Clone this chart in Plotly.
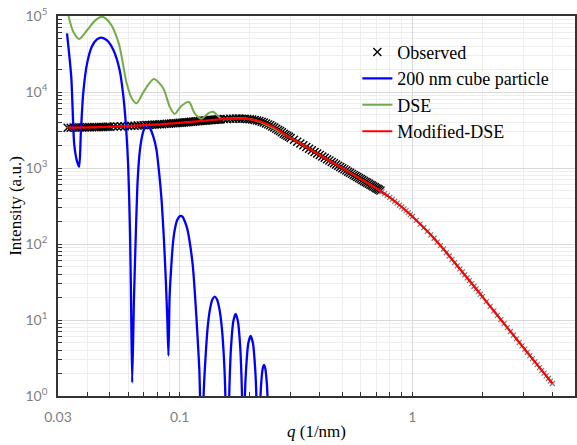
import plotly.graph_objects as go

# ---- Observed scattering intensity (dense SAXS range) ----
obs_q = [0.033, 0.034, 0.035, 0.036, 0.037, 0.038, 0.039, 0.040, 0.041, 0.042,
         0.043, 0.044, 0.045, 0.046, 0.047, 0.048, 0.049, 0.050, 0.052, 0.054,
         0.056, 0.058, 0.060, 0.062, 0.064, 0.066, 0.068, 0.070, 0.072, 0.074,
         0.076, 0.078, 0.080, 0.082, 0.084, 0.086, 0.088, 0.090, 0.092, 0.094,
         0.096, 0.098, 0.100, 0.102, 0.104, 0.106, 0.108, 0.110, 0.112, 0.114,
         0.116, 0.118, 0.120, 0.122, 0.124, 0.126, 0.128, 0.130, 0.132, 0.134,
         0.136, 0.138, 0.140, 0.142, 0.144, 0.146, 0.148,
         0.150, 0.155, 0.160, 0.165, 0.170, 0.175, 0.180, 0.185, 0.190, 0.195,
         0.200, 0.205, 0.210, 0.215, 0.220, 0.225, 0.230, 0.235, 0.240, 0.245,
         0.250, 0.255, 0.260, 0.265, 0.270, 0.275, 0.280, 0.285, 0.290, 0.295,
         0.300, 0.31, 0.32, 0.33, 0.34, 0.35, 0.36, 0.37, 0.38, 0.39,
         0.40, 0.41, 0.42, 0.43, 0.44, 0.45, 0.46, 0.47, 0.48, 0.49,
         0.50, 0.51, 0.52, 0.53, 0.54, 0.55, 0.56, 0.57, 0.58, 0.59,
         0.60, 0.61, 0.62, 0.63, 0.64, 0.65, 0.66, 0.67, 0.68, 0.69,
         0.70, 0.71, 0.72, 0.73]
obs_i = [3390, 3395, 3400, 3405, 3410, 3415, 3420, 3426, 3432, 3438,
         3445, 3450, 3455, 3462, 3468, 3475, 3482, 3490, 3505, 3520,
         3540, 3555, 3570, 3587, 3603, 3620, 3637, 3654, 3670, 3690,
         3708, 3725, 3742, 3759, 3776, 3794, 3811, 3830, 3850, 3870,
         3890, 3910, 3930, 3950, 3970, 3990, 4010, 4030, 4050, 4070,
         4090, 4110, 4130, 4150, 4170, 4188, 4203, 4220, 4236, 4253,
         4270, 4287, 4303, 4320, 4333, 4347, 4360,
         4380, 4400, 4420, 4440, 4460, 4470, 4470, 4460, 4445, 4420,
         4385, 4340, 4285, 4220, 4145, 4060, 3965, 3860, 3750, 3640,
         3520, 3400, 3290, 3170, 3060, 2950, 2830, 2740, 2650, 2570,
         2490, 2351, 2220, 2100, 1990, 1889, 1796, 1710, 1629, 1555,
         1486, 1421, 1361, 1304, 1252, 1202, 1155, 1111, 1070, 1031,
         994, 959, 926, 895, 866, 837, 811, 785, 761, 738,
         716, 695, 675, 656, 638, 620, 603, 587, 572, 557,
         542, 529, 516, 504]

# ---- Observed scattering intensity (high-q range) ----
obs_q_high = [0.74, 0.76, 0.78, 0.80, 0.82, 0.84, 0.86, 0.88, 0.90, 0.92,
              0.94, 0.96, 0.98, 1.00, 1.04, 1.08, 1.12, 1.16, 1.20, 1.24,
              1.28, 1.32, 1.36, 1.40, 1.44, 1.48, 1.52, 1.56, 1.60, 1.64,
              1.68, 1.72, 1.76, 1.80, 1.84, 1.88, 1.92, 1.96, 2.00, 2.08,
              2.16, 2.24, 2.32, 2.40, 2.48, 2.56, 2.64, 2.72, 2.80, 2.88,
              2.96, 3.04, 3.12, 3.20, 3.28, 3.36, 3.44, 3.52, 3.60, 3.68,
              3.76, 3.84, 3.92, 4.00]
obs_i_high = [489, 461, 435, 410, 387, 365, 344, 325, 307, 290,
              274, 258, 244, 230, 205, 183, 164, 147, 132, 119,
              106, 95.5, 85.8, 77.1, 69.5, 62.8, 56.9, 51.6, 47.0, 42.9,
              39.2, 35.9, 32.9, 30.2, 27.8, 25.6, 23.7, 21.9, 20.3, 17.5,
              15.1, 13.2, 11.5, 10.1, 8.95, 7.94, 7.06, 6.31, 5.65, 5.07,
              4.57, 4.13, 3.74, 3.40, 3.10, 2.82, 2.58, 2.37, 2.17, 2.00,
              1.84, 1.70, 1.57, 1.46]

# ---- Form factor of a 200 nm cube particle ----
cube_q = [0.0328, 0.0342, 0.0352, 0.0361, 0.0370, 0.0376, 0.0385, 0.0400, 0.0419, 0.0441,
          0.0460, 0.0486, 0.0519, 0.0552, 0.0573, 0.0588, 0.0601, 0.0612, 0.0618, 0.0625,
          0.0636, 0.0648, 0.0660, 0.0675, 0.0694, 0.0716, 0.0745, 0.0770, 0.0795, 0.0815,
          0.0836, 0.0855, 0.0873, 0.0885, 0.0895,
          0.0905, 0.0920, 0.0935, 0.0952, 0.0975, 0.1007, 0.1030, 0.1054, 0.1078, 0.1101,
          0.1140, 0.1180, 0.1200, 0.1215, 0.1223, 0.1245,
          0.1267, 0.1290, 0.1320, 0.1351, 0.1382, 0.1415, 0.1447, 0.1481, 0.1516, 0.1551,
          0.1572, 0.1605,
          0.1633, 0.1642, 0.1661, 0.1700, 0.1740, 0.1780, 0.1822, 0.1843, 0.1853, 0.1873,
          0.1907, 0.1928, 0.1972, 0.2018, 0.2065, 0.2113, 0.2136, 0.2175,
          0.2225, 0.2251, 0.2277, 0.2304, 0.2331, 0.2358, 0.2385, 0.2448]
cube_i = [5.9e4, 1.59e4, 2100, 1270, 1040, 2860, 9600, 2.38e4, 3.95e4, 4.93e4,
          5.2e4, 4.8e4, 3.57e4, 1.95e4, 8700, 3490, 1040, 138, 18.3, 1.5,
          18.3, 138, 700, 1730, 2860, 3700, 3330, 2600, 1730, 900,
          380, 120, 30.5, 10, 3.4,
          20, 50, 100, 153, 205, 234, 228, 196, 158, 113,
          50, 11, 4.5, 2.2, 1.0, 0.01,
          1.0, 3.0, 8.2, 14.05, 18.6, 20.3, 18.6, 14.05, 8.2, 3.0,
          1.0, 0.01,
          1.0, 1.84, 4.23, 9.56, 12.0, 9.56, 4.23, 1.84, 1.0, 0.01,
          1.0, 2.17, 4.93, 6.2, 4.93, 2.17, 1.0, 0.01,
          1.0, 1.76, 2.34, 2.56, 2.34, 1.76, 1.0, 0.01]

# ---- Debye scattering equation ----
dse_q = [0.0333, 0.0349, 0.0370, 0.0400, 0.0436, 0.0464, 0.0503, 0.0547, 0.0592, 0.0622,
         0.0653, 0.0699, 0.0774, 0.0850, 0.0906, 0.0952, 0.1016, 0.1096, 0.1160, 0.1240,
         0.1326, 0.1390, 0.1510, 0.1650, 0.1800, 0.2000, 0.2200, 0.2400, 0.2600, 0.2800,
         0.3000, 0.3500, 0.4000, 0.5000, 0.6000, 0.7000, 0.7300]
dse_i = [1.0e5, 6.2e4, 5.0e4, 6.5e4, 8.9e4, 9.8e4, 8.0e4, 4.4e4, 1.3e4, 8260,
         7100, 1.0e4, 1.48e4, 1.12e4, 6400, 5150, 6550, 7400, 5250, 4450,
         5250, 5480, 4450, 4480, 4500, 4400, 4050, 3600, 3180, 2790,
         2490, 1900, 1480, 1000, 715, 540, 500]

# ---- Modified Debye scattering equation ----
mdse_q = [0.0328, 0.040, 0.050, 0.060, 0.070, 0.080, 0.090, 0.100, 0.115, 0.130,
          0.145, 0.160, 0.175, 0.190, 0.205, 0.220, 0.240, 0.260, 0.280, 0.300,
          0.350, 0.400, 0.500, 0.600, 0.700, 0.800, 0.900, 1.0, 1.2, 1.4,
          1.6, 1.8, 2.0, 2.3, 2.6, 3.0, 3.5, 4.0]
mdse_i = [3390, 3425, 3490, 3570, 3655, 3740, 3830, 3930, 4080, 4220,
          4340, 4425, 4465, 4445, 4340, 4140, 3730, 3300, 2820, 2490,
          1889, 1486, 994, 716, 542, 410, 307, 230, 132, 77.1,
          47.0, 30.2, 20.3, 11.9, 7.48, 4.35, 2.42, 1.46]

# ---- Axis ticks ----
x_tickvals = [0.03, 0.1, 1, 5]
x_ticktext = ["0.03", "0.1", "1", "5"]
x_minor = [0.04, 0.05, 0.06, 0.07, 0.08, 0.09,
           0.2, 0.3, 0.4, 0.5, 0.6, 0.7, 0.8, 0.9, 2, 3, 4]
y_tickvals = [1, 10, 100, 1000, 10000, 100000]
y_ticktext = ["10<sup>0</sup>", "10<sup>1</sup>", "10<sup>2</sup>",
              "10<sup>3</sup>", "10<sup>4</sup>", "10<sup>5</sup>"]
y_minor = [m * d for d in (1, 10, 100, 1000, 10000) for m in range(2, 10)]

SERIF = "Liberation Serif"
TICKFONT = dict(family="Lato", size=14, color="#7f7f7f")
AXIS_COLOR = "#333333"

fig = go.Figure()

fig.add_trace(go.Scatter(
    x=obs_q, y=obs_i, mode="markers", name="Observed",
    marker=dict(symbol="x-thin", size=8, color="black",
                line=dict(width=1.4, color="black")),
    legendgroup="obs"))
fig.add_trace(go.Scatter(
    x=obs_q_high, y=obs_i_high, mode="markers", name="Observed",
    showlegend=False, legendgroup="obs",
    marker=dict(symbol="x-thin", size=5, color="#777777",
                line=dict(width=1.1, color="#777777"))))
fig.add_trace(go.Scatter(
    x=cube_q, y=cube_i, mode="lines", name="200 nm cube particle",
    line=dict(color="#0000ff", width=2.3, shape="spline", smoothing=0.6),
    legendgroup="cube"))
fig.add_trace(go.Scatter(
    x=dse_q, y=dse_i, mode="lines", name="DSE",
    line=dict(color="#70ad47", width=2, shape="spline", smoothing=0.8),
    legendgroup="dse"))
fig.add_trace(go.Scatter(
    x=mdse_q, y=mdse_i, mode="lines", name="Modified-DSE",
    line=dict(color="#ff0000", width=2.2, shape="spline", smoothing=0.8),
    legendgroup="mdse"))

fig.update_xaxes(
    type="log", range=[-1.5229, 0.699],
    tickmode="array", tickvals=x_tickvals, ticktext=x_ticktext,
    ticks="inside", ticklen=4, tickwidth=1, tickcolor=AXIS_COLOR,
    showline=True, linecolor=AXIS_COLOR, linewidth=1.5, mirror=True,
    showgrid=True, gridcolor="#d9d9d9", gridwidth=1, zeroline=False,
    minor=dict(tickmode="array", tickvals=x_minor, ticks="inside", ticklen=4,
               tickcolor=AXIS_COLOR, showgrid=True, gridcolor="#eeeeee"),
    tickfont=TICKFONT, ticklabelstandoff=7, automargin=True,
    title=dict(text="<i>q</i> (1/nm)", standoff=2,
               font=dict(family=SERIF, size=17, color="black")))

fig.update_yaxes(
    type="log", range=[0, 5],
    tickmode="array", tickvals=y_tickvals, ticktext=y_ticktext,
    ticks="inside", ticklen=4, tickwidth=1, tickcolor=AXIS_COLOR,
    showline=True, linecolor=AXIS_COLOR, linewidth=1.5, mirror=True,
    showgrid=True, gridcolor="#d9d9d9", gridwidth=1, zeroline=False,
    minor=dict(tickmode="array", tickvals=y_minor, ticks="inside", ticklen=4,
               tickcolor=AXIS_COLOR, showgrid=True, gridcolor="#eeeeee"),
    tickfont=TICKFONT, ticklabelstandoff=6, automargin=True,
    title=dict(text="Intensity (a.u.)", standoff=0,
               font=dict(family=SERIF, size=17, color="black")))

fig.update_layout(
    width=577, height=445,
    margin=dict(l=58, r=0, t=16, b=49),
    plot_bgcolor="white", paper_bgcolor="white",
    legend=dict(x=0.579, y=0.953, xanchor="left", yanchor="top",
                bgcolor="rgba(0,0,0,0)", borderwidth=0,
                font=dict(family=SERIF, size=18, color="black"),
                tracegroupgap=0, itemwidth=30, traceorder="grouped"),
)

fig.write_html("out.html")
